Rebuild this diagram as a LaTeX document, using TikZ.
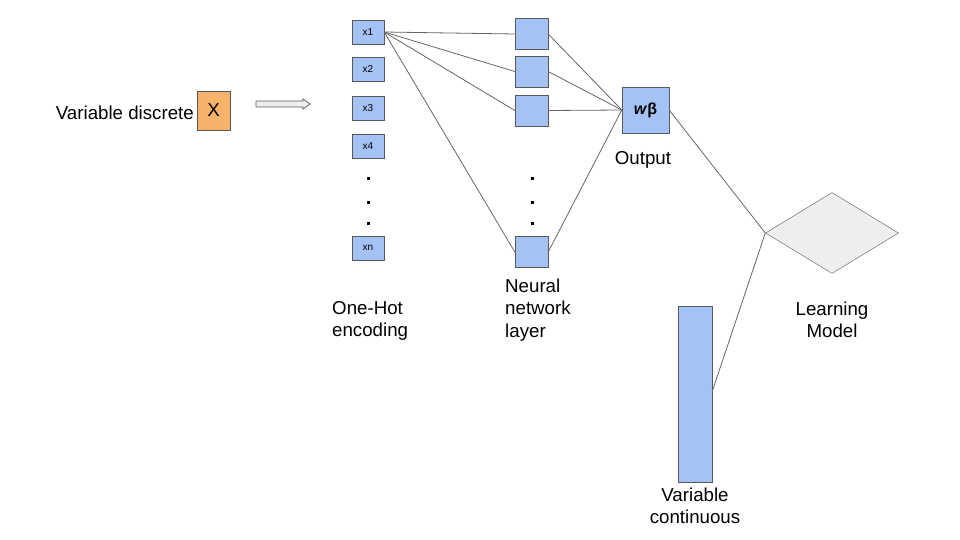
\documentclass[tikz,border=0pt]{standalone}
\usepackage{fontspec}
\setmainfont{Liberation Sans}
\usetikzlibrary{shapes.geometric}
\definecolor{boxblue}{HTML}{A4C2F4}
\definecolor{boxorange}{HTML}{F6B26B}
\definecolor{edge}{HTML}{595959}
\definecolor{wire}{HTML}{666666}
\definecolor{diafill}{HTML}{EEEEEE}
\tikzset{
  lbl/.style={inner sep=0pt, font=\fontsize{18.7}{22.5}\selectfont},
  onehot/.style={draw=edge, fill=boxblue, minimum width=32pt, minimum height=24pt, inner sep=0pt, font=\fontsize{10}{11}\selectfont},
  nnbox/.style={draw=edge, fill=boxblue, minimum width=33pt, minimum height=31pt, inner sep=0pt},
  dotlbl/.style={fill=black, minimum size=3pt, inner sep=0pt},
  wireline/.style={draw=wire, line width=0.8pt},
}
\begin{document}
\begin{tikzpicture}[x=1pt,y=-1pt]
\useasboundingbox (0,0) rectangle (960,540);
% discrete variable
\node[lbl, anchor=east] (vd) at (194,113) {Variable discrete};
\node[draw=edge, fill=boxorange, minimum width=33pt, minimum height=39pt, inner sep=0pt, font=\fontsize{18.7}{22}\selectfont] (X) at (213.5,110.5) {X};
% hollow arrow
\path[draw=edge, fill=diafill, line width=0.7pt] (256,101) -- (303,101) -- (303,99) -- (310,104) -- (303,109) -- (303,107) -- (256,107) -- cycle;
% one-hot boxes
\node[onehot] (x1) at (368,32) {x1};
\node[onehot] (x2) at (368,69) {x2};
\node[onehot] (x3) at (368,108) {x3};
\node[onehot] (x4) at (368,146) {x4};
\node[dotlbl] (d1) at (368,179) {};
\node[dotlbl] (d2) at (368,202) {};
\node[dotlbl] (d3) at (368,223) {};
\node[onehot] (xn) at (368,248) {xn};
% neural layer
\node[nnbox] (n1) at (531.5,34) {};
\node[nnbox] (n2) at (531.5,71.5) {};
\node[nnbox] (n3) at (531.5,110.5) {};
\node[dotlbl] (e1) at (532,179) {};
\node[dotlbl] (e2) at (532,202) {};
\node[dotlbl] (e3) at (532,223) {};
\node[nnbox] (nn) at (531.5,252) {};
% output
\node[draw=edge, fill=boxblue, minimum width=47pt, minimum height=46pt, inner sep=0pt, font=\fontsize{16}{18}\selectfont\bfseries] (out) at (645.5,110) {\textit{w}β};
\node[lbl] (outl) at (643,160) {Output};
% connectors
\draw[wireline] (x1.east) -- (n1.west);
\draw[wireline] (x1.east) -- (n2.west);
\draw[wireline] (x1.east) -- (n3.west);
\draw[wireline] (x1.east) -- (nn.west);
\draw[wireline] (n1.east) -- (out.west);
\draw[wireline] (n2.east) -- (out.west);
\draw[wireline] (n3.east) -- (out.west);
\draw[wireline] (nn.east) -- (out.west);
% learning model
\node[diamond, draw=edge, fill=diafill, minimum width=133pt, minimum height=81pt, inner sep=0pt, aspect=1.64] (lm) at (832,233) {};
\draw[wireline] (out.east) -- (lm.west);
% continuous variable
\node[draw=edge, fill=boxblue, minimum width=34pt, minimum height=176pt, inner sep=0pt] (vc) at (695,394) {};
\coordinate (vcp) at (712,392);
\draw[wireline] (vcp) -- (lm.west);
% labels
\node[lbl, anchor=west, align=left] (oh) at (332,321) {One-Hot\\encoding};
\node[lbl, anchor=west, align=left] (nnl) at (505,310) {Neural\\network\\layer};
\node[lbl, align=center] (lml) at (832,320) {Learning\\Model};
\node[lbl, align=center] (vcl) at (695,506) {Variable\\continuous};
\end{tikzpicture}
\end{document}
